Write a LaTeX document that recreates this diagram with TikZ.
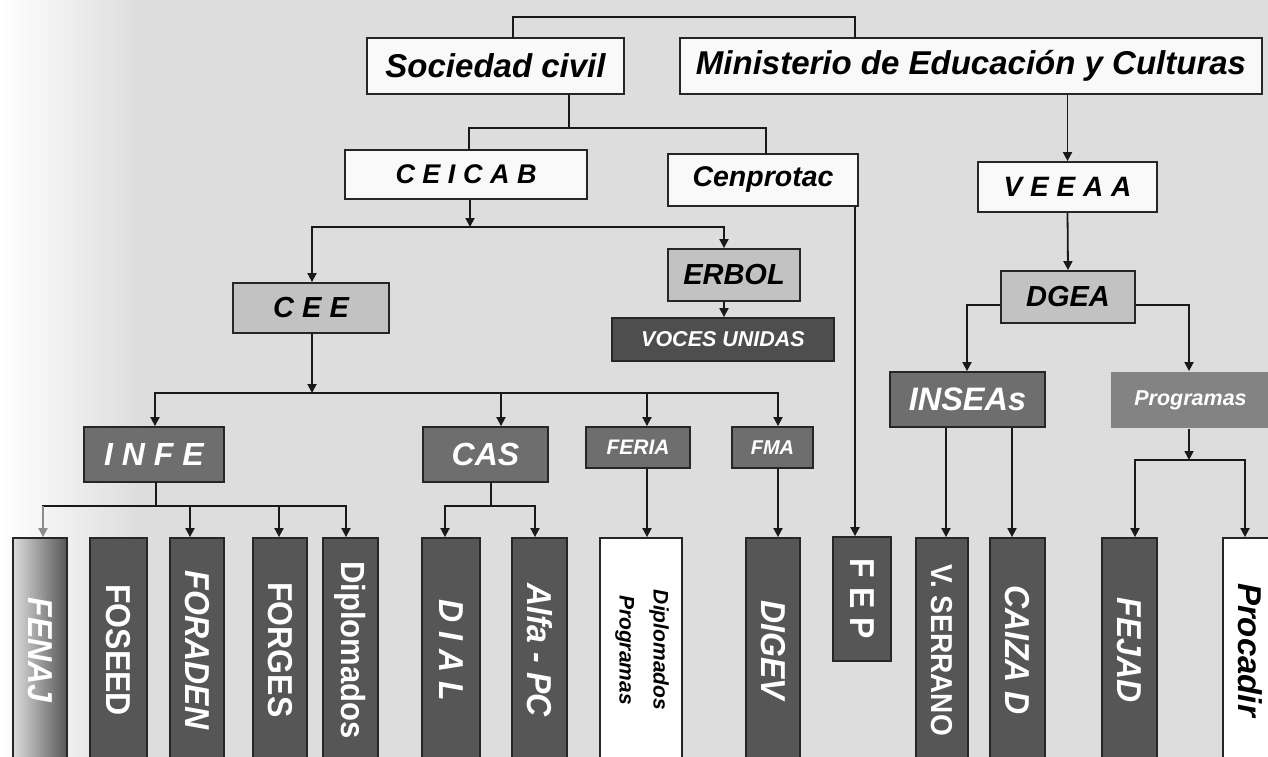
\documentclass[tikz,border=0pt]{standalone}
\usepackage{fontspec}
\setmainfont{Liberation Sans}
\usetikzlibrary{arrows.meta}
\definecolor{bg}{HTML}{DDDDDD}
\definecolor{cw}{HTML}{F9F9F9}
\definecolor{cl}{HTML}{C2C2C2}
\definecolor{cm}{HTML}{6E6E6E}
\definecolor{cp}{HTML}{838383}
\definecolor{cd}{HTML}{565656}
\definecolor{cv}{HTML}{4E4E4E}
\newcommand\myfs[1]{\fontsize{#1}{#1}\selectfont}
\newcommand\vtx[1]{\rotatebox{-90}{\scalebox{1}[1.08]{\bfseries #1}}}
\tikzset{
  bx/.style={draw=black!85, line width=1.8pt, inner sep=0pt, align=center},
  wb/.style={bx, fill=cw, text=black, font=\bfseries\itshape},
  lb/.style={bx, fill=cl, text=black, font=\bfseries\itshape},
  mb/.style={bx, fill=cm, text=white, font=\bfseries\itshape},
  db/.style={bx, fill=cd, text=white},
  ln/.style={line width=1.8pt, draw=black!90, line cap=rect},
  ar/.style={line width=1.8pt, draw=black!90, -{Triangle[length=9pt,width=9pt]}},
}
\begin{document}
\begin{tikzpicture}[x=1pt,y=-1pt]
\useasboundingbox (0,0) rectangle (1268,757);
\clip (0,0) rectangle (1268,757);
\fill[bg] (0,0) rectangle (1268,757);
\shade[left color=white, right color=bg] (0,0) rectangle (140,757);

% top level
\node[wb, minimum width=257, minimum height=56] (soc) at (495.5,66) {\myfs{33}Sociedad civil};
\node[wb, minimum width=582, minimum height=56] (min) at (971,66) {\myfs{33}Ministerio de Educación y Culturas};
\node[wb, minimum width=242, minimum height=49] (ceicab) at (466,174.5) {\myfs{27}C E I C A B};
\node[wb, minimum width=190, minimum height=52] (cenp) at (763,180) {\myfs{28.5}Cenprotac};
\node[wb, minimum width=179, minimum height=50] (veeaa) at (1067.5,187) {\myfs{28}V E E A A};

% second level
\node[lb, minimum width=156, minimum height=50] (cee) at (311,308) {\myfs{29}C E E};
\node[lb, minimum width=132, minimum height=52] (erbol) at (734,275) {\myfs{29}ERBOL};
\node[bx, fill=cv, text=white, font=\bfseries\itshape, minimum width=222, minimum height=43] (voces) at (723,339.5) {\myfs{21.5}VOCES UNIDAS};
\node[lb, minimum width=134, minimum height=52] (dgea) at (1068,297) {\myfs{29}DGEA};

% third level
\node[mb, minimum width=140, minimum height=55] (infe) at (154,454.5) {\myfs{32}I N F E};
\node[mb, minimum width=125, minimum height=55] (cas) at (485.5,454.5) {\myfs{32}CAS};
\node[mb, minimum width=104, minimum height=41] (feria) at (638,447.5) {\myfs{21}FERIA};
\node[mb, minimum width=81, minimum height=41] (fma) at (772.5,447.5) {\myfs{20}FMA};
\node[mb, minimum width=155, minimum height=55] (insea) at (967.5,399.5) {\myfs{32.5}INSEAs};
\node[bx, draw=none, fill=cp, text=white, font=\bfseries\itshape, minimum width=159, minimum height=56] (prog) at (1190.5,400) {\myfs{21.5}Programas};

% bottom level
\node[db, shade, left color=cd!20!white, right color=cd, minimum width=54, minimum height=224] (fenaj) at (40,650) {\vtx{\myfs{32}\itshape FENAJ}};
\node[db, minimum width=57, minimum height=224] (foseed) at (118.5,650) {\vtx{\myfs{32}FOSEED}};
\node[db, minimum width=54, minimum height=224] (foraden) at (197,650) {\vtx{\myfs{32}\itshape FORADEN}};
\node[db, minimum width=54, minimum height=224] (forges) at (280,650) {\vtx{\myfs{32}FORGES}};
\node[db, minimum width=55, minimum height=224] (diplo) at (350.5,650) {\vtx{\myfs{31}Diplomados}};
\node[db, minimum width=58, minimum height=224] (dial) at (451,650) {\vtx{\myfs{32}\itshape D I A L}};
\node[db, minimum width=55, minimum height=224] (alfa) at (539.5,650) {\vtx{\myfs{32}\itshape Alfa - PC}};
\node[bx, fill=white, text=black, minimum width=82, minimum height=224] (dipprog) at (641,650) {\rotatebox{-90}{\myfs{21}\bfseries\itshape\begin{tabular}{@{}c@{}}Diplomados\\[13pt]Programas\end{tabular}}};
\node[db, minimum width=54, minimum height=224] (digev) at (773,650) {\vtx{\myfs{32}\itshape DIGEV}};
\node[db, minimum width=58, minimum height=124] (fep) at (862,599) {\vtx{\myfs{32}F E P}};
\node[db, minimum width=52, minimum height=224] (vserr) at (942,650) {\vtx{\myfs{28}V. SERRANO}};
\node[db, minimum width=55, minimum height=224] (caiza) at (1017.5,650) {\vtx{\myfs{32}\itshape CAIZA D}};
\node[db, minimum width=55, minimum height=224] (fejad) at (1129.5,650) {\vtx{\myfs{32}\itshape FEJAD}};
\node[bx, fill=white, text=black, minimum width=54, minimum height=224] (procadir) at (1250,650) {\rotatebox{-90}{\myfs{33}\bfseries\itshape Procadir}};

% connectors: top
\coordinate (t1) at (513,17); \coordinate (t2) at (855,17);
\draw[ln] (soc.north -| t1) -- (t1) -- (t2) -- (t2 |- min.north);
\coordinate (s1) at (569,128); \coordinate (s2) at (469,128); \coordinate (s3) at (766,128);
\draw[ln] (soc.south -| s1) -- (s1);
\draw[ln] (s2 |- ceicab.north) -- (s2) -- (s3) -- (s3 |- cenp.north);

% ceicab bus
\coordinate (c0) at (470,227); \coordinate (cL) at (312,227); \coordinate (cR) at (724,227);
\draw[ar] (ceicab.south -| c0) -- (c0);
\draw[ln] (cL) -- (cR);
\draw[ar] (cL) -- (cL |- cee.north);
\draw[ar] (cR) -- (cR |- erbol.north);
\draw[ar] (cR |- erbol.south) -- (cR |- voces.north);

% cee bus
\coordinate (e0) at (312,393); \coordinate (eL) at (155,393); \coordinate (eR) at (778,393);
\coordinate (eC) at (501,393); \coordinate (eF) at (647,393);
\draw[ar] (cee.south -| e0) -- (e0);
\draw[ln] (eL) -- (eR);
\draw[ar] (eL) -- (eL |- infe.north);
\draw[ar] (eC) -- (eC |- cas.north);
\draw[ar] (eF) -- (eF |- feria.north);
\draw[ar] (eR) -- (eR |- fma.north);

% infe bus
\coordinate (i0) at (156,506); \coordinate (iL) at (43,506); \coordinate (iR) at (346,506);
\coordinate (i2) at (190,506); \coordinate (i3) at (279,506);
\draw[ln] (infe.south -| i0) -- (i0);
\draw[ln] (iL) -- (iR);
\draw[ar, draw=black!45] (iL) -- (iL |- fenaj.north);
\draw[ar] (i2) -- (i2 |- foraden.north);
\draw[ar] (i3) -- (i3 |- forges.north);
\draw[ar] (iR) -- (iR |- diplo.north);

% cas bus
\coordinate (a0) at (491,506); \coordinate (aL) at (445,506); \coordinate (aR) at (535,506);
\draw[ln] (cas.south -| a0) -- (a0);
\draw[ln] (aL) -- (aR);
\draw[ar] (aL) -- (aL |- dial.north);
\draw[ar] (aR) -- (aR |- alfa.north);

% feria, fma
\draw[ar] (eF |- feria.south) -- (eF |- dipprog.north);
\draw[ar] (eR |- fma.south) -- (eR |- digev.north);

% cenprotac -> fep
\coordinate (f0) at (855,200);
\draw[ar] (cenp.south -| f0) -- (f0 |- fep.north);

% ministerio branch
\draw[ar] (veeaa.north |- min.south) -- (veeaa.north);
\draw[ar] (veeaa.south) -- (dgea.north);
\coordinate (g1) at (967,305); \coordinate (g2) at (1189,305);
\draw[ar] (dgea.west |- g1) -- (g1) -- (g1 |- insea.north);
\draw[ar] (dgea.east |- g2) -- (g2) -- (g2 |- prog.north);
\coordinate (n1) at (946,450); \coordinate (n2) at (1012,450);
\draw[ar] (insea.south -| n1) -- (n1 |- vserr.north);
\draw[ar] (insea.south -| n2) -- (n2 |- caiza.north);
\coordinate (p0) at (1189,460); \coordinate (pL) at (1135,460); \coordinate (pR) at (1245,460);
\draw[ar] (prog.south -| p0) -- (p0);
\draw[ln] (pL) -- (pR);
\draw[ar] (pL) -- (pL |- fejad.north);
\draw[ar] (pR) -- (pR |- procadir.north);
\end{tikzpicture}
\end{document}
